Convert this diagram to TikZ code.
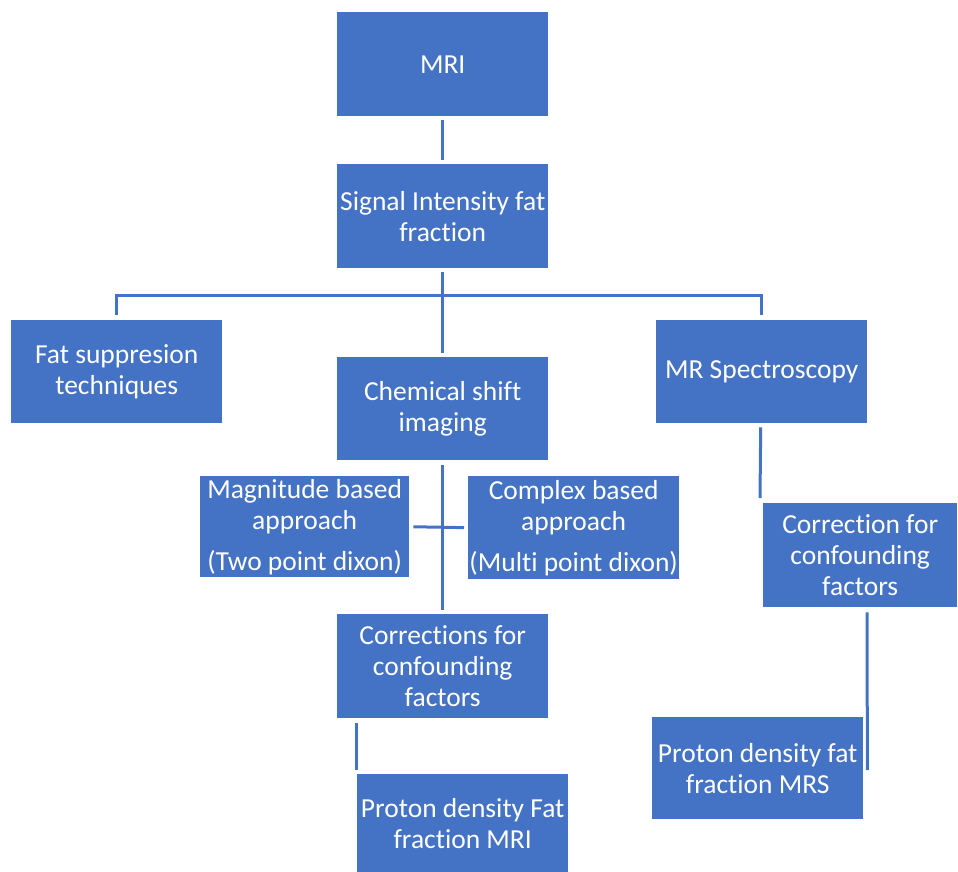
\documentclass[tikz,border=0pt]{standalone}
\usepackage{fontspec}
\setmainfont[Ligatures=NoCommon]{Carlito}
\definecolor{boxblue}{HTML}{4472C4}
\begin{document}
\begin{tikzpicture}[x=1pt,y=1pt,
  box/.style={fill=boxblue, draw=none, text=white, align=center, inner sep=0pt,
    anchor=north west, font=\fontsize{27.5}{31}\selectfont},
  conn/.style={draw=boxblue, line width=3pt}]
\useasboundingbox (0,0) rectangle (958,-872);
\node[box, minimum width=211, minimum height=104] (mri) at (337,-12) {MRI};
\node[box, minimum width=211, minimum height=104] (sig) at (337,-164) {Signal Intensity fat\\fraction};
\node[box, minimum width=211, minimum height=103] (fat) at (11,-320) {Fat suppresion\\techniques};
\node[box, minimum width=211, minimum height=103] (chem) at (337,-357) {Chemical shift\\imaging};
\node[box, minimum width=211, minimum height=103] (mrs) at (656,-320) {MR Spectroscopy};
\node[box, minimum width=209, minimum height=101] (mag) at (200,-476) {Magnitude based\\approach\\[10pt](Two point dixon)};
\node[box, minimum width=211, minimum height=103] (comp) at (468,-476) {Complex based\\approach\\[10pt](Multi point dixon)};
\node[box, minimum width=211, minimum height=104] (corr) at (337,-614) {Corrections for\\confounding\\factors};
\node[box, minimum width=194, minimum height=104] (corrR) at (763,-503) {Correction for\\confounding\\factors};
\node[box, minimum width=211, minimum height=98] (pdmri) at (357,-774) {Proton density Fat\\fraction MRI};
\node[box, minimum width=211, minimum height=102] (pdmrs) at (652,-717) {Proton density fat\\fraction MRS};
\coordinate (bus) at (442,-295);
\draw[conn, shorten <=4pt, shorten >=4pt] (mri.south) -- (sig.north);
\draw[conn, shorten <=4pt, shorten >=4pt] (sig.south) -- (chem.north);
\draw[conn] ([yshift=5pt]fat.north) |- (bus) -| ([yshift=5pt]mrs.north);
\draw[conn, shorten <=5pt, shorten >=4pt] (chem.south) -- (corr.north);
\draw[conn, shorten <=4pt, shorten >=4pt] (mag.east) -- (comp.west);
\draw[conn] ([xshift=19pt,yshift=-5pt]corr.south west) -- ([xshift=-1pt,yshift=4pt]pdmri.north west);
\draw[conn] ([xshift=-1pt,yshift=-4pt]mrs.south) -- ([xshift=-3pt,yshift=5pt]corrR.north west);
\draw[conn] ([xshift=104pt,yshift=-5pt]corrR.south west) -- ([xshift=4pt,yshift=-2pt]pdmrs.east);
\end{tikzpicture}
\end{document}
